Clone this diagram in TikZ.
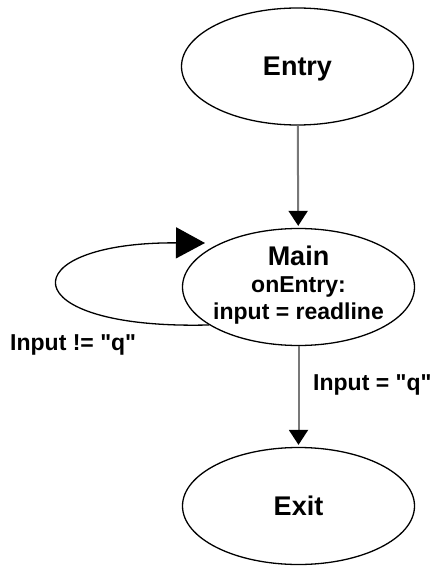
\documentclass[tikz,border=0pt]{standalone}
\usepackage{fontspec}
\setmainfont{Liberation Sans}[Ligatures=TeXOff]
\usetikzlibrary{arrows.meta,shapes.geometric}
\definecolor{edgegray}{RGB}{120,120,120}
\tikzset{
  statenode/.style={ellipse, draw=black, line width=1.3pt, minimum width=232pt, minimum height=117pt, inner sep=0pt},
  titlefont/.style={font=\fontsize{27}{30}\selectfont\bfseries},
  flowarrow/.style={draw=edgegray, line width=2pt, -{Triangle[length=15pt,width=19pt,color=black]}, shorten >=2pt},
  looparrow/.style={draw=black, line width=1.3pt, -{Triangle[length=29pt,width=31pt,color=black]}},
  edgelabel/.style={font=\fontsize{23}{27}\selectfont\bfseries, inner sep=0pt}
}
\begin{document}
\begin{tikzpicture}[x=1pt,y=-1pt]
\useasboundingbox (0,0) rectangle (433,569);
\node[statenode, titlefont, text depth=0pt] (entry) at (297.5,66.5) {Entry};
\node[statenode] (main) at (298.5,287) {\makebox[0pt]{\fontsize{23}{27}\selectfont\bfseries\begin{tabular}{@{}c@{}}{\fontsize{27}{27}\selectfont Main}\\onEntry:\\input = readline\end{tabular}}};
\node[statenode, titlefont] (exit) at (298.5,506) {Exit};
\coordinate (looptip) at (205,243);
\draw[flowarrow] (entry) -- (main);
\draw[flowarrow] (main) -- (exit);
\draw[looparrow] (main.203) .. controls (10,330) and (10,242) .. (looptip);
\node[edgelabel, anchor=base west] (lblloop) at (10,350) {Input != "q"};
\node[edgelabel, anchor=base west] (lblexit) at (313,390) {Input = "q"};
\end{tikzpicture}
\end{document}
